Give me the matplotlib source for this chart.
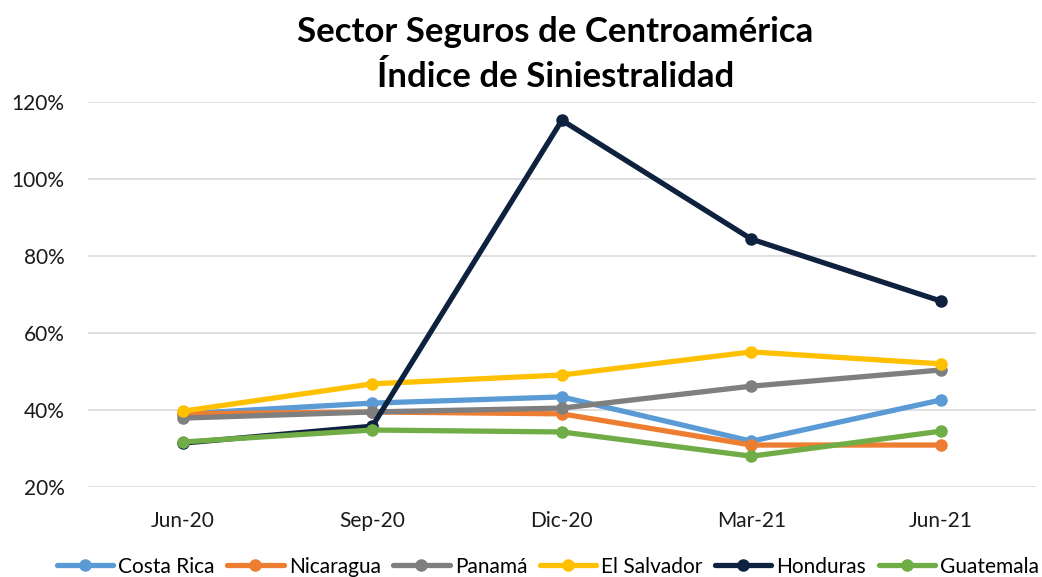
import matplotlib.pyplot as plt
from matplotlib.ticker import FuncFormatter

# Datos
periodos = ['Jun-20', 'Sep-20', 'Dic-20', 'Mar-21', 'Jun-21']
costa_rica = [39.0, 41.8, 43.4, 31.9, 42.6]
nicaragua = [39.0, 39.5, 39.0, 30.9, 30.9]
panama = [37.9, 39.5, 40.5, 46.2, 50.4]
el_salvador = [39.7, 46.8, 49.1, 55.1, 52.0]
honduras = [31.4, 35.8, 115.3, 84.4, 68.3]
guatemala = [31.7, 34.8, 34.3, 28.0, 34.5]

paises = ['Costa Rica', 'Nicaragua', 'Panamá', 'El Salvador', 'Honduras', 'Guatemala']
series = [costa_rica, nicaragua, panama, el_salvador, honduras, guatemala]
colores = ['#5B9BD5', '#ED7D31', '#7F7F7F', '#FFC000', '#0E2240', '#70AD47']

plt.rcParams['font.family'] = ['Lato', 'DejaVu Sans']

fig = plt.figure(figsize=(10.42, 5.77), dpi=100)
ax = fig.add_axes([0.0845, 0.156, 0.9095, 0.667])

x = range(len(periodos))
for nombre, valores, color in zip(paises, series, colores):
    ax.plot(x, valores, color=color, linewidth=3.8, marker='o', markersize=8,
            label=nombre, solid_capstyle='round')

ax.set_xlim(-0.5, len(periodos) - 0.5)
ax.set_ylim(20, 120)
ax.set_yticks(range(20, 121, 20))
ax.yaxis.set_major_formatter(FuncFormatter(lambda v, p: f'{v:.0f}%'))
ax.set_xticks(list(x))
ax.set_xticklabels(periodos)
ax.grid(True, axis='y', color='#D9D9D9', linewidth=1.2)
ax.set_axisbelow(True)
for s in ax.spines.values():
    s.set_visible(False)
ax.tick_params(axis='both', length=0, labelsize=15, labelcolor='#1a1a1a')
ax.tick_params(axis='x', pad=17)
ax.tick_params(axis='y', pad=17)

fig.text(0.533, 0.945, 'Sector Seguros de Centroamérica', ha='center', va='center',
         fontsize=25, fontweight='bold')
fig.text(0.533, 0.866, 'Índice de Siniestralidad', ha='center', va='center',
         fontsize=25, fontweight='bold')

fig.legend(loc='center', bbox_to_anchor=(0.526, 0.018), ncol=6, frameon=False,
           fontsize=15, handlelength=2.7, handletextpad=0.25, columnspacing=0.6)

fig.savefig('out.png', dpi=100)
